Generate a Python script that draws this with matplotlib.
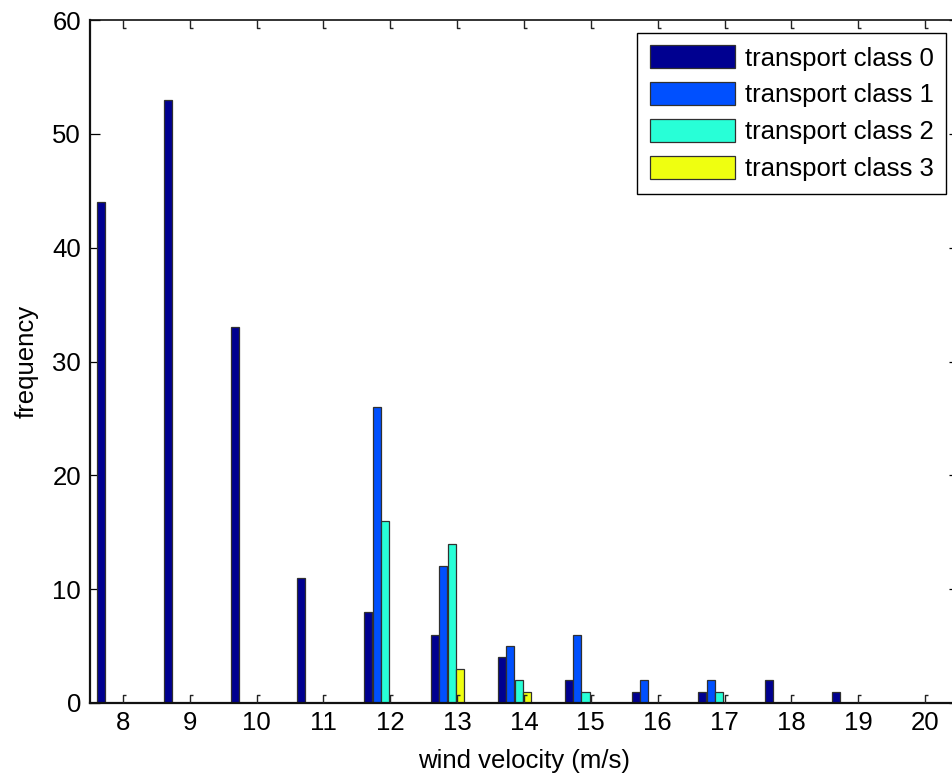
import numpy as np
import matplotlib
matplotlib.use("Agg")
import matplotlib.pyplot as plt
from matplotlib.path import Path
from matplotlib.markers import MarkerStyle
import matplotlib.transforms as mtransforms

plt.rcParams['font.family'] = ['Liberation Sans', 'DejaVu Sans']

# wind velocity bins (m/s)
velocity = [8, 9, 10, 11, 12, 13, 14, 15, 16, 17, 18, 19, 20]

# frequency per transport class
class0 = [44, 53, 33, 11, 8, 6, 4, 2, 1, 1, 2, 1, 0]
class1 = [0, 0, 0, 0, 26, 12, 5, 6, 2, 2, 0, 0, 0]
class2 = [0, 0, 0, 0, 16, 14, 2, 1, 0, 1, 0, 0, 0]
class3 = [0, 0, 0, 0, 0, 3, 1, 0, 0, 0, 0, 0, 0]

labels = ["transport class 0", "transport class 1",
          "transport class 2", "transport class 3"]
colors = ["#000090", "#0050FF", "#28FFD7", "#EFFF10"]

W, H = 952, 780
fig = plt.figure(figsize=(W / 100, H / 100), dpi=100)
fig.patch.set_facecolor("white")
left, right, top, bottom = 89.5, 958.5, 20, 703
ax = fig.add_axes([left / W, (H - bottom) / H, (right - left) / W, (bottom - top) / H])

fs = 18.5
x = np.array(velocity, dtype=float)
series = [class0, class1, class2, class3]
offsets = [-0.33 + 0.125 * k for k in range(4)]
bar_w = 0.12
for vals, off, col, lab in zip(series, offsets, colors, labels):
    ax.bar(x + off, vals, width=bar_w, color=col, edgecolor="#303030",
           linewidth=0.9, label=lab, zorder=2)

ax.set_xlim(7.5, 20.5)
ax.set_ylim(0, 60)
ax.set_xticks(velocity)
ax.set_yticks(np.arange(0, 61, 10))

ax.tick_params(axis='y', which='both', direction='in', length=7.2, width=0.9,
               left=True, right=True, labelsize=fs, pad=6, colors='black')
ax.tick_params(axis='x', which='both', length=0, labelsize=fs, pad=6,
               bottom=True, top=False)

for sp in ax.spines.values():
    sp.set_linewidth(1.6)
    sp.set_color("#111111")
ax.spines['top'].set_linewidth(1.2)

# hooked x tick marks along bottom and top edges
hook_bottom = MarkerStyle(Path([(0, 0), (0, 1), (0.38, 1)],
                               [Path.MOVETO, Path.LINETO, Path.LINETO]))
hook_top = MarkerStyle(Path([(0, 0), (0, -1), (0.38, -1)],
                            [Path.MOVETO, Path.LINETO, Path.LINETO]))
trans = mtransforms.blended_transform_factory(ax.transData, ax.transAxes)
ax.plot(velocity, [0] * len(velocity), linestyle='none', marker=hook_bottom,
        markersize=11.5, markerfacecolor='none', markeredgecolor='#222222',
        markeredgewidth=1.0, transform=trans, clip_on=False, zorder=3)
ax.plot(velocity, [1] * len(velocity), linestyle='none', marker=hook_top,
        markersize=11.5, markerfacecolor='none', markeredgecolor='#222222',
        markeredgewidth=1.0, transform=trans, clip_on=False, zorder=3)

ax.set_xlabel("wind velocity (m/s)", fontsize=fs, labelpad=10)
ax.set_ylabel("frequency", fontsize=fs, labelpad=10)

leg = ax.legend(loc='upper right', bbox_to_anchor=(1 - 12.5 / (right - left), 1 - 13 / (bottom - top)),
                bbox_transform=ax.transAxes, borderaxespad=0, fontsize=fs,
                frameon=True, fancybox=False, shadow=False,
                handlelength=3.3, handleheight=1.0, handletextpad=0.4,
                labelspacing=0.45, borderpad=0.48)
leg.get_frame().set_edgecolor("black")
leg.get_frame().set_linewidth(1.0)
leg.get_frame().set_alpha(1)

fig.savefig("out.png", dpi=100)
